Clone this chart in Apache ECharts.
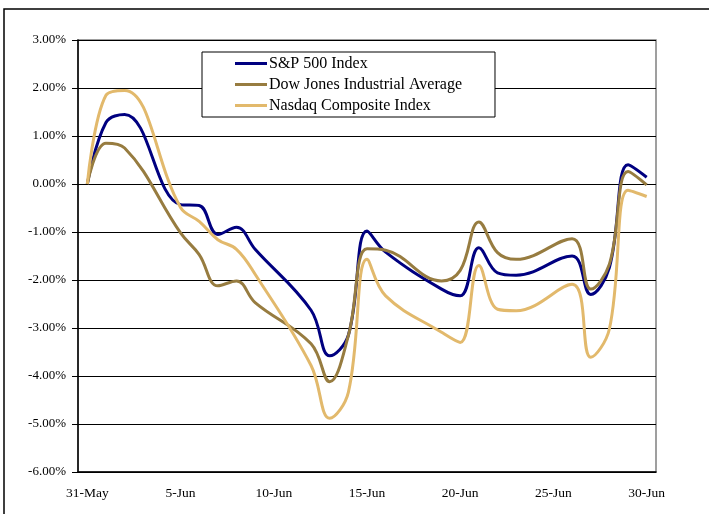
<!DOCTYPE html>
<html>
<head>
<meta charset="utf-8">
<script src="https://cdn.jsdelivr.net/npm/echarts@6/dist/echarts.min.js"></script>
<style>
  html, body { margin: 0; padding: 0; background: #fff; }
  #chart { width: 709px; height: 514px; }
</style>
</head>
<body>
<div id="chart"></div>
<script>
// Calendar days shown on the date axis (31 May - 30 Jun)
const calendarDays = [
  '31-May', '1-Jun', '2-Jun', '3-Jun', '4-Jun', '5-Jun', '6-Jun', '7-Jun', '8-Jun', '9-Jun',
  '10-Jun', '11-Jun', '12-Jun', '13-Jun', '14-Jun', '15-Jun', '16-Jun', '17-Jun', '18-Jun', '19-Jun',
  '20-Jun', '21-Jun', '22-Jun', '23-Jun', '24-Jun', '25-Jun', '26-Jun', '27-Jun', '28-Jun', '29-Jun',
  '30-Jun'
];

// Trading days with a closing value
const tradingDays = [
  '31-May', '1-Jun', '2-Jun', '5-Jun', '6-Jun', '7-Jun', '8-Jun', '9-Jun',
  '12-Jun', '13-Jun', '14-Jun', '15-Jun', '16-Jun', '19-Jun', '20-Jun', '21-Jun',
  '22-Jun', '23-Jun', '26-Jun', '27-Jun', '28-Jun', '29-Jun', '30-Jun'
];

// Cumulative change since 31-May, in percent
const sp500 = [0, 1.28, 1.45, -0.43, -0.45, -1.05, -0.90, -1.36,
  -2.63, -3.58, -3.15, -0.98, -1.42, -2.19, -2.33, -1.33,
  -1.85, -1.90, -1.50, -2.30, -1.74, 0.40, 0.14];
const dowJones = [0, 0.85, 0.75, -1.02, -1.47, -2.12, -2.02, -2.47,
  -3.33, -4.12, -3.16, -1.35, -1.38, -2.02, -1.80, -0.79,
  -1.43, -1.57, -1.14, -2.19, -1.67, 0.26, -0.02];
const nasdaq = [0, 1.85, 1.95, -0.49, -0.78, -1.16, -1.36, -1.88,
  -3.78, -4.88, -4.34, -1.57, -2.33, -3.09, -3.30, -1.70,
  -2.61, -2.64, -2.09, -3.61, -3.02, -0.13, -0.26];

const seriesNames = ['S&P 500 Index', 'Dow Jones Industrial Average', 'Nasdaq Composite Index'];
const seriesColors = ['#000080', '#977C40', '#E2B96C'];
const seriesValues = [sp500, dowJones, nasdaq];

// Spread trading-day values over the calendar axis; weekends stay empty
function onCalendar(values) {
  const out = calendarDays.map(() => null);
  tradingDays.forEach((d, i) => { out[calendarDays.indexOf(d)] = values[i]; });
  return out;
}

const font = 'Liberation Serif';
const chart = echarts.init(document.getElementById('chart'), null, { renderer: 'canvas' });

chart.setOption({
  animation: false,
  backgroundColor: '#fff',
  graphic: [{
    type: 'rect',
    z: -10,
    shape: { x: 4, y: 9, width: 760, height: 560 },
    style: { fill: 'none', stroke: '#000', lineWidth: 1.5 }
  }],
  grid: { left: 78, right: 53, top: 40, bottom: 42, show: true, borderColor: '#808080', borderWidth: 1.5, backgroundColor: 'transparent' },
  legend: {
    orient: 'vertical',
    left: 202,
    top: 52,
    padding: [3, 33, 3, 33],
    itemGap: 4,
    itemWidth: 32,
    itemHeight: 17,
    backgroundColor: '#fff',
    borderColor: '#000',
    borderWidth: 1,
    borderRadius: 0,
    textStyle: { fontFamily: font, fontSize: 16, color: '#000', padding: [0, 0, 0, -3], lineHeight: 17 },
    data: seriesNames.map(n => ({ name: n, icon: 'path://M0,0 L32,0 L32,3 L0,3 Z' }))
  },
  xAxis: {
    type: 'category',
    data: calendarDays,
    boundaryGap: true,
    axisLine: { onZero: false, lineStyle: { color: '#000', width: 1.5 } },
    axisTick: { interval: 4, alignWithLabel: false, length: 5, lineStyle: { color: '#000' } },
    axisLabel: { interval: 4, margin: 14, fontFamily: font, fontSize: 13.5, color: '#000' },
    splitLine: { show: false }
  },
  yAxis: {
    type: 'value',
    min: -6,
    max: 3,
    interval: 1,
    axisLine: { show: true, onZero: false, lineStyle: { color: '#000', width: 1.5 } },
    axisTick: { show: true, length: 6, lineStyle: { color: '#000' } },
    axisLabel: { margin: 12, fontFamily: font, fontSize: 13, color: '#000', formatter: v => v.toFixed(2) + '%' },
    splitLine: { show: true, lineStyle: { color: '#000', width: 1 } }
  },
  series: seriesNames.map((name, i) => ({
    name: name,
    type: 'line',
    data: onCalendar(seriesValues[i]),
    connectNulls: true,
    smooth: 0.4,
    symbol: 'none',
    color: seriesColors[i],
    lineStyle: { width: 3, color: seriesColors[i] }
  }))
});
</script>
</body>
</html>
